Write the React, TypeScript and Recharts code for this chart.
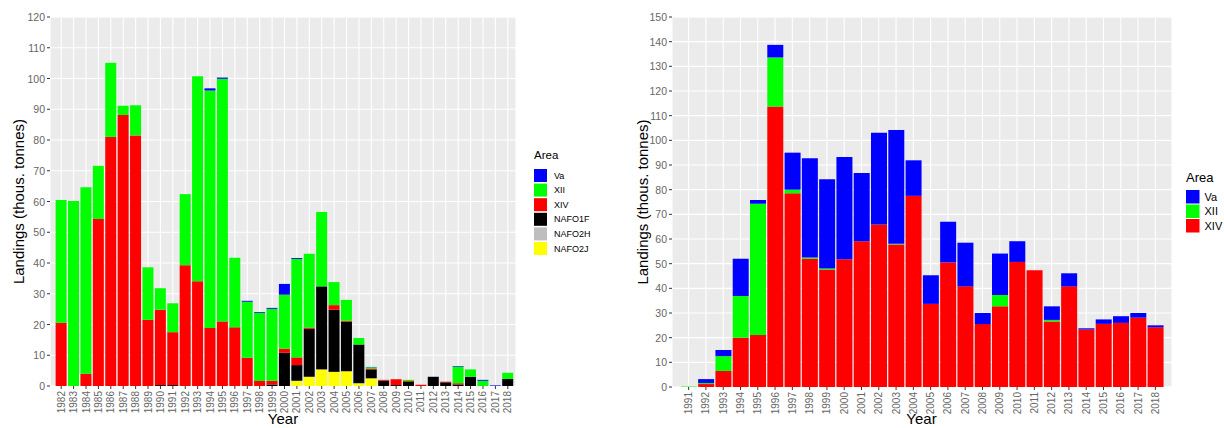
import React from 'react';
import { BarChart, Bar, XAxis, YAxis, CartesianGrid } from 'recharts';

// ---------- Left panel data (1982-2018) ----------
const leftYears = [1982, 1983, 1984, 1985, 1986, 1987, 1988, 1989, 1990, 1991, 1992, 1993, 1994, 1995, 1996, 1997, 1998, 1999, 2000, 2001, 2002, 2003, 2004, 2005, 2006, 2007, 2008, 2009, 2010, 2011, 2012, 2013, 2014, 2015, 2016, 2017, 2018];
const leftVa = [0, 0, 0, 0, 0, 0, 0, 0, 0, 0, 0, 0, 0.7, 0.4, 0, 0.3, 0.3, 0.3, 3.5, 0.3, 0, 0, 0, 0, 0, 0.1, 0, 0, 0, 0, 0, 0, 0.2, 0, 0.3, 0.2, 0];
const leftXII = [39.9, 60.2, 60.6, 17.3, 24.1, 3.0, 9.8, 17.1, 7.0, 9.4, 23.1, 66.6, 77.2, 78.9, 22.6, 18.2, 22.2, 23.4, 17.6, 32.0, 24.0, 24.2, 7.5, 6.8, 2.1, 0.4, 0, 0, 0.4, 0, 0, 0, 5.4, 2.4, 1.7, 0, 2.0];
const leftXIV = [20.6, 0, 4.0, 54.3, 81.0, 88.1, 81.5, 21.5, 24.5, 17.2, 39.3, 34.1, 18.9, 21.0, 19.1, 9.2, 1.6, 1.2, 1.3, 2.5, 0.4, 0, 1.5, 0.3, 0, 0.3, 0.3, 1.9, 0.3, 0.4, 0, 0.2, 0.4, 0, 0, 0, 0];
const leftNAFO1F = [0, 0, 0, 0, 0, 0, 0, 0, 0.3, 0.3, 0, 0, 0, 0, 0, 0, 0, 0.5, 10.8, 5.1, 15.6, 27.0, 20.2, 16.1, 12.6, 2.9, 1.7, 0.3, 1.3, 0, 3.0, 1.2, 0.5, 3.0, 0, 0, 2.3];
const leftNAFO2H = [0, 0, 0, 0, 0, 0, 0, 0, 0, 0, 0, 0, 0, 0, 0, 0, 0, 0, 0, 0, 0, 0, 0, 0, 0, 0, 0, 0, 0, 0, 0, 0, 0, 0, 0, 0, 0];
const leftNAFO2J = [0, 0, 0, 0, 0, 0, 0, 0, 0, 0, 0, 0, 0, 0, 0, 0, 0, 0, 0, 1.7, 3.0, 5.4, 4.6, 4.8, 0.9, 2.5, 0, 0, 0, 0, 0, 0, 0, 0, 0, 0, 0];
const leftYTicks = [0, 10, 20, 30, 40, 50, 60, 70, 80, 90, 100, 110, 120];
const leftYMinor = [5, 15, 25, 35, 45, 55, 65, 75, 85, 95, 105, 115];

// ---------- Right panel data (1991-2018) ----------
const rightYears = [1991, 1992, 1993, 1994, 1995, 1996, 1997, 1998, 1999, 2000, 2001, 2002, 2003, 2004, 2005, 2006, 2007, 2008, 2009, 2010, 2011, 2012, 2013, 2014, 2015, 2016, 2017, 2018];
const rightVa = [0, 1.6, 2.5, 15.1, 1.5, 5.1, 15.0, 40.2, 36.2, 41.4, 27.7, 37.2, 46.1, 14.4, 11.6, 16.5, 17.7, 4.5, 16.8, 8.4, 0, 5.5, 5.3, 0.5, 1.8, 2.7, 1.9, 0.8];
const rightXII = [0.2, 0.4, 6.0, 16.9, 53.2, 19.9, 1.5, 0.5, 0.5, 0, 0, 0, 0.3, 0, 0, 0, 0, 0, 4.6, 0, 0, 0.6, 0, 0, 0, 0, 0, 0];
const rightXIV = [0, 1.2, 6.5, 20.0, 21.1, 113.7, 78.5, 52.0, 47.5, 51.8, 59.1, 65.9, 57.8, 77.5, 33.7, 50.5, 40.8, 25.5, 32.7, 50.7, 47.3, 26.6, 40.8, 23.3, 25.6, 26.0, 28.1, 24.2];
const rightYTicks = [0, 10, 20, 30, 40, 50, 60, 70, 80, 90, 100, 110, 120, 130, 140, 150];
const rightYMinor = [5, 15, 25, 35, 45, 55, 65, 75, 85, 95, 105, 115, 125, 135, 145];

// ---------- Areas ----------
const leftAreas = ['Va', 'XII', 'XIV', 'NAFO1F', 'NAFO2H', 'NAFO2J'];
const rightAreas = ['Va', 'XII', 'XIV'];
const areaColors: Record<string, string> = {
  Va: '#0000FF',
  XII: '#00FF00',
  XIV: '#FF0000',
  NAFO1F: '#000000',
  NAFO2H: '#BEBEBE',
  NAFO2J: '#FFFF00',
};

const yTitle = 'Landings (thous. tonnes)';
const xTitle = 'Year';
const legendTitle = 'Area';

const leftData = leftYears.map((y, i) => ({
  year: String(y),
  Va: leftVa[i],
  XII: leftXII[i],
  XIV: leftXIV[i],
  NAFO1F: leftNAFO1F[i],
  NAFO2H: leftNAFO2H[i],
  NAFO2J: leftNAFO2J[i],
}));

const rightData = rightYears.map((y, i) => ({
  year: String(y),
  Va: rightVa[i],
  XII: rightXII[i],
  XIV: rightXIV[i],
}));

const FONT = '"Liberation Sans", Arial, Helvetica, sans-serif';
const TICK_COLOR = '#666666';

const XTick = (props: any) => {
  const { x, y, payload } = props;
  return (
    <text
      x={x}
      y={y}
      transform={`rotate(-90 ${x} ${y})`}
      textAnchor="end"
      dominantBaseline="central"
      fontSize={10}
      fill={TICK_COLOR}
      fontFamily={FONT}
    >
      {payload.value}
    </text>
  );
};

const YTick = (props: any) => {
  const { x, y, payload } = props;
  return (
    <text x={x} y={y} textAnchor="end" dominantBaseline="central" fontSize={10.5} fill={TICK_COLOR} fontFamily={FONT}>
      {payload.value}
    </text>
  );
};

type PanelProps = {
  data: any[];
  areas: string[];
  ticks: number[];
  minor: number[];
  max: number;
  width: number;
  yAxisWidth: number;
  marginRight: number;
  padding: { left: number; right: number };
  xHeight: number;
};

const Panel = ({ data, areas, ticks, minor, max, width, yAxisWidth, marginRight, padding, xHeight }: PanelProps) => {
  const stackOrder = [...areas].reverse();
  return (
    <BarChart
      width={width}
      height={428}
      data={data}
      margin={{ top: 17, right: marginRight, bottom: 0, left: 0 }}
      barCategoryGap="5%"
    >
      <CartesianGrid yAxisId="minor" vertical={false} stroke="#FFFFFF" strokeWidth={0.55} fill="#EBEBEB" />
      <CartesianGrid stroke="#FFFFFF" strokeWidth={1.1} />
      <XAxis
        dataKey="year"
        interval={0}
        tick={<XTick />}
        tickSize={3}
        tickMargin={2}
        axisLine={false}
        tickLine={{ stroke: '#333333' }}
        height={xHeight}
        padding={padding}
      />
      <YAxis
        type="number"
        domain={[0, max]}
        ticks={ticks}
        interval={0}
        width={yAxisWidth}
        tick={<YTick />}
        tickSize={3}
        tickMargin={2}
        axisLine={false}
        tickLine={{ stroke: '#333333' }}
      />
      <YAxis
        yAxisId="minor"
        type="number"
        domain={[0, max]}
        ticks={minor}
        interval={0}
        width={0}
        tick={false}
        tickLine={false}
        axisLine={false}
        orientation="left"
      />
      {stackOrder.map((a) => (
        <Bar key={a} dataKey={a} stackId="s" fill={areaColors[a]} isAnimationActive={false} />
      ))}
    </BarChart>
  );
};

type LegendProps = {
  x: number;
  y: number;
  areas: string[];
  titleSize: number;
  labelSize: number;
  keySize: number;
  step: number;
  top: number;
  gap: number;
};

const AreaLegend = ({ x, y, areas, titleSize, labelSize, keySize, step, top, gap }: LegendProps) => (
  <g>
    <text x={x} y={y} fontSize={titleSize} fontFamily={FONT} fill="#000" dominantBaseline="central">
      {legendTitle}
    </text>
    {areas.map((a: string, i: number) => (
      <g key={a}>
        <rect x={x} y={y + top + i * step} width={keySize} height={keySize} fill={areaColors[a]} />
        <text
          x={x + keySize + gap}
          y={y + top + i * step + keySize / 2}
          fontSize={labelSize}
          fontFamily={FONT}
          fill="#000"
          dominantBaseline="central"
        >
          {a}
        </text>
      </g>
    ))}
  </g>
);

export default function App() {
  return (
    <div style={{ position: 'absolute', left: 0, top: 0, width: 1224, height: 428, background: '#FFFFFF', overflow: 'hidden' }}>
      <div style={{ position: 'absolute', left: 0, top: 0 }}>
        <Panel
          data={leftData}
          areas={leftAreas}
          ticks={leftYTicks}
          minor={leftYMinor}
          max={120}
          width={530}
          yAxisWidth={50}
          marginRight={14}
          padding={{ left: 5, right: 2 }}
          xHeight={42}
        />
      </div>
      <div style={{ position: 'absolute', left: 600, top: 0 }}>
        <Panel
          data={rightData}
          areas={rightAreas}
          ticks={rightYTicks}
          minor={rightYMinor}
          max={150}
          width={580}
          yAxisWidth={72}
          marginRight={8}
          padding={{ left: 8, right: 8 }}
          xHeight={41}
        />
      </div>
      <svg width={1224} height={428} style={{ position: 'absolute', left: 0, top: 0, pointerEvents: 'none' }}>
        <text x={18} y={201.5} transform="rotate(-90 18 201.5)" textAnchor="middle" dominantBaseline="central" fontSize={15} fontFamily={FONT} fill="#000">
          {yTitle}
        </text>
        <text x={642} y={202} transform="rotate(-90 642 202)" textAnchor="middle" dominantBaseline="central" fontSize={15} fontFamily={FONT} fill="#000">
          {yTitle}
        </text>
        <text x={283} y={424} textAnchor="middle" fontSize={15} fontFamily={FONT} fill="#000">
          {xTitle}
        </text>
        <text x={921.5} y={424} textAnchor="middle" fontSize={15} fontFamily={FONT} fill="#000">
          {xTitle}
        </text>
        <AreaLegend x={534} y={155} areas={leftAreas} titleSize={11.5} labelSize={9} keySize={13} step={14.6} top={14} gap={7} />
        <AreaLegend x={1186} y={177} areas={rightAreas} titleSize={13} labelSize={11} keySize={13.5} step={14.5} top={13} gap={5} />
      </svg>
    </div>
  );
}
